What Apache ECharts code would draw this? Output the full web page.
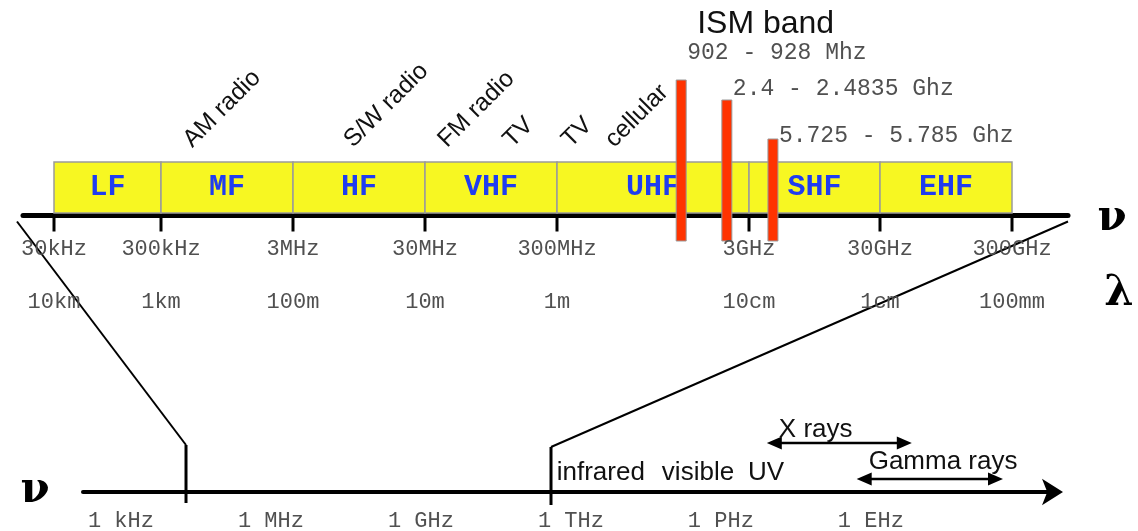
<!DOCTYPE html>
<html><head><meta charset="utf-8">
<script src="https://cdn.jsdelivr.net/npm/echarts@6/dist/echarts.min.js"></script>
<style>html,body{margin:0;padding:0;background:#fff;}#c{width:1138px;height:531px;}</style>
</head><body><div id="c"></div>
<script>
// ---------------- data ----------------
const bandNames = ['LF', 'MF', 'HF', 'VHF', 'UHF', 'SHF', 'EHF'];
const bandEdgesHz = [3e4, 3e5, 3e6, 3e7, 3e8, 3e9, 3e10, 3e11];
const freqTickLabels = ['30kHz', '300kHz', '3MHz', '30MHz', '300MHz', '3GHz', '30GHz', '300GHz'];
const wavelengthLabels = ['10km', '1km', '100m', '10m', '1m', '10cm', '1cm', '100mm'];
const serviceNames = ['AM radio', 'S/W radio', 'FM radio', 'TV', 'TV', 'cellular'];
const serviceHz = [4.0e5, 6.6e6, 3.4e7, 1.06e8, 2.95e8, 5.0e8];
const ismTitle = 'ISM band';
const ismLabels = ['902 - 928 Mhz', '2.4 - 2.4835 Ghz', '5.725 - 5.785 Ghz'];
const ismBarHz = [1.33e9, 2.3e9, 4.57e9];
const spectrumTickLabels = ['1 kHz', '1 MHz', '1 GHz', '1 THz', '1 PHz', '1 EHz'];
const spectrumTickHz = [1e3, 1e6, 1e9, 1e12, 1e15, 1e18];
const regionNames = ['infrared', 'visible', 'UV'];
const regionStartHz = [5.2e11, 6.6e13, 3.5e15];
const rayNames = ['X rays', 'Gamma rays'];
const rayFromHz = [8.3e15, 5.2e17];
const rayToHz = [6.6e18, 4.4e20];
const zoomSpanHz = [2e4, 4e11];

// ---------------- layout / style ----------------
const AXIS_Y = 215.5;
const BAND_X = [54, 161, 293, 425, 557, 749, 880, 1012];
const AXIS_X = [23, 1068];
const SPEC_GRID = {left: 83, width: 970, top: 300, height: 192};
const SPEC_MIN = 174, SPEC_MAX = 4.4e21;
const ISM_BAR_TOP = [80, 100, 139];
const ISM_LABEL_Y = [53, 89, 136];
const RAY_DY = [-49, -13];
const RAY_TEXT_DY = [-62, -30];
const MONO = '"Liberation Mono", "DejaVu Sans Mono", monospace';
const SANS = '"Liberation Sans", Arial, sans-serif';
const SERIF = '"DejaVu Serif", "Liberation Serif", serif';
const MONO_COLOR = '#505050';

const grids = [], xAxes = [], yAxes = [], series = [];
bandNames.forEach((n, i) => {
  grids.push({left: BAND_X[i], width: BAND_X[i + 1] - BAND_X[i], top: 0, height: AXIS_Y});
  xAxes.push({gridIndex: i, type: 'log', logBase: 10, min: bandEdgesHz[i], max: bandEdgesHz[i + 1], show: false});
  yAxes.push({gridIndex: i, type: 'value', min: 0, max: 1, show: false});
});
const AX_GRID = grids.length;
grids.push({left: AXIS_X[0], width: AXIS_X[1] - AXIS_X[0], top: 0, height: AXIS_Y});
xAxes.push({gridIndex: AX_GRID, type: 'value', min: 0, max: 1,
  axisLine: {show: true, onZero: false, lineStyle: {color: '#000', width: 5}},
  axisTick: {show: false}, axisLabel: {show: false}, splitLine: {show: false}});
yAxes.push({gridIndex: AX_GRID, type: 'value', min: 0, max: 1, show: false});
const SP_GRID = grids.length;
grids.push(SPEC_GRID);
xAxes.push({gridIndex: SP_GRID, type: 'log', logBase: 10, min: SPEC_MIN, max: SPEC_MAX,
  axisLine: {show: true, onZero: false, symbol: ['none', 'arrow'], symbolSize: [20, 21], symbolOffset: [0, 10],
    lineStyle: {color: '#000', width: 4}},
  axisTick: {show: false}, axisLabel: {show: false}, splitLine: {show: false}, minorTick: {show: false}});
yAxes.push({gridIndex: SP_GRID, type: 'value', min: 0, max: 1, show: false});

function bandOf(f) {
  for (let i = 0; i < bandNames.length - 1; i++) if (f < bandEdgesHz[i + 1]) return i;
  return bandNames.length - 1;
}

const topItems = bandNames.map(() => []);
bandNames.forEach((n, i) => topItems[i].push({kind: 'band', f: bandEdgesHz[i], i}));
bandEdgesHz.forEach((f, i) => topItems[bandOf(f)].push({kind: 'tick', f, i}));
serviceHz.forEach((f, i) => topItems[bandOf(f)].push({kind: 'service', f, i}));
ismBarHz.forEach((f, i) => topItems[bandOf(f)].push({kind: 'ism', f, i}));

function monoText(x, y, text, size, align) {
  return {type: 'text', x, y, style: {text, fill: MONO_COLOR, fontFamily: MONO, fontSize: size,
    align: align || 'center', verticalAlign: 'middle'}};
}

function renderTop(d, api) {
  const p = api.coord([d.f, 0]);
  const x = p[0], y = p[1];
  if (d.kind === 'band') {
    const x0 = api.coord([bandEdgesHz[d.i], 0])[0];
    const x1 = api.coord([bandEdgesHz[d.i + 1], 0])[0];
    return {type: 'group', children: [
      {type: 'rect', shape: {x: x0, y: y - 53.5, width: x1 - x0, height: 51},
        style: {fill: '#f7f722', stroke: '#9a9a9a', lineWidth: 1.5}},
      {type: 'text', x: (x0 + x1) / 2, y: y - 28, style: {text: bandNames[d.i], fill: '#1f3cf0',
        fontFamily: MONO, fontWeight: 'bold', fontSize: 30, align: 'center', verticalAlign: 'middle'}}
    ]};
  }
  if (d.kind === 'tick') {
    return {type: 'group', children: [
      {type: 'line', shape: {x1: x, y1: y, x2: x, y2: y + 16}, style: {stroke: '#000', lineWidth: 3}},
      monoText(x, y + 34, freqTickLabels[d.i], 22),
      monoText(x, y + 87, wavelengthLabels[d.i], 22)
    ]};
  }
  if (d.kind === 'service') {
    return {type: 'text', x: x + 10, y: y - 72, rotation: Math.PI / 4,
      style: {text: serviceNames[d.i], fill: '#111', fontFamily: SANS, fontSize: 24.5, align: 'left', verticalAlign: 'middle'}};
  }
  if (d.kind === 'ism') {
    const top = ISM_BAR_TOP[d.i];
    const ch = [
      {type: 'rect', shape: {x: x - 5, y: top, width: 10, height: y + 25.5 - top},
        style: {fill: '#ff3300', stroke: '#999', lineWidth: 1}},
      monoText(x + 6, ISM_LABEL_Y[d.i], ismLabels[d.i], 23, 'left')
    ];
    if (d.i === 0) ch.push({type: 'text', x: x + 16, y: 24, style: {text: ismTitle, fill: '#111',
      fontFamily: SANS, fontSize: 32, align: 'left', verticalAlign: 'middle'}});
    return {type: 'group', children: ch};
  }
}

function makeTop(b, items, z) {
  return {type: 'custom', xAxisIndex: b, yAxisIndex: b, z, silent: true, animation: false,
    data: items.map(d => [d.f, 0]),
    renderItem: (params, api) => renderTop(items[params.dataIndex], api)};
}
bandNames.forEach((n, b) => {
  series.push(makeTop(b, topItems[b].filter(d => d.kind === 'band'), 2));
  series.push(makeTop(b, topItems[b].filter(d => d.kind !== 'band'), 3));
});

const botItems = [];
spectrumTickHz.forEach((f, i) => botItems.push({kind: 'label', f, i}));
regionStartHz.forEach((f, i) => botItems.push({kind: 'region', f, i}));
rayFromHz.forEach((f, i) => botItems.push({kind: 'ray', f, i}));

function arrowHead(xt, y, dir) {
  return {type: 'polygon', shape: {points: [[xt, y], [xt + dir * 15, y - 6.5], [xt + dir * 15, y + 6.5]]},
    style: {fill: '#000'}};
}
function renderBottom(d, api) {
  const p = api.coord([d.f, 0]);
  const x = p[0], y = p[1];
  if (d.kind === 'label') return monoText(x, y + 29, spectrumTickLabels[d.i], 22);
  if (d.kind === 'region') return {type: 'text', x, y: y - 19, style: {text: regionNames[d.i], fill: '#111',
    fontFamily: SANS, fontSize: 26, align: 'left', verticalAlign: 'middle'}};
  if (d.kind === 'ray') {
    const x1 = api.coord([rayToHz[d.i], 0])[0];
    const ay = y + RAY_DY[d.i];
    return {type: 'group', children: [
      {type: 'line', shape: {x1: x + 10, y1: ay, x2: x1 - 10, y2: ay}, style: {stroke: '#000', lineWidth: 2.7}},
      arrowHead(x, ay, 1), arrowHead(x1, ay, -1),
      {type: 'text', x: x + 12, y: y + RAY_TEXT_DY[d.i], style: {text: rayNames[d.i], fill: '#111',
        fontFamily: SANS, fontSize: 26, align: 'left', verticalAlign: 'middle'}}
    ]};
  }
}
series.push({type: 'custom', xAxisIndex: SP_GRID, yAxisIndex: SP_GRID, z: 3, silent: true, animation: false,
  data: botItems.map(d => [d.f, 0]),
  renderItem: (params, api) => renderBottom(botItems[params.dataIndex], api)});

const chart = echarts.init(document.getElementById('c'), null, {renderer: 'canvas'});
chart.setOption({
  animation: false,
  backgroundColor: '#fff',
  grid: grids, xAxis: xAxes, yAxis: yAxes, series
});

// connectors (zoom lines) computed through the axes
const axL = chart.convertToPixel({xAxisIndex: AX_GRID}, 0);
const axR = chart.convertToPixel({xAxisIndex: AX_GRID}, 1);
const zl = chart.convertToPixel({xAxisIndex: SP_GRID}, zoomSpanHz[0]);
const zr = chart.convertToPixel({xAxisIndex: SP_GRID}, zoomSpanHz[1]);
const spY = chart.convertToPixel({yAxisIndex: SP_GRID}, 0);
const symStyle = {fill: '#000', fontFamily: SERIF, fontWeight: 'bold', fontSize: 42, align: 'center', verticalAlign: 'middle'};
chart.setOption({graphic: [
  {id: 'cl', type: 'polyline', shape: {points: [[axL - 6, AXIS_Y + 6], [zl, spY - 47]]}, style: {stroke: '#000', lineWidth: 2, fill: null}},
  {id: 'cr', type: 'polyline', shape: {points: [[axR, AXIS_Y + 6], [zr, spY - 45]]}, style: {stroke: '#000', lineWidth: 2, fill: null}},
  {id: 'vl', type: 'line', shape: {x1: zl, y1: spY - 47, x2: zl, y2: spY + 11}, style: {stroke: '#000', lineWidth: 3}},
  {id: 'vr', type: 'line', shape: {x1: zr, y1: spY - 45, x2: zr, y2: spY + 13}, style: {stroke: '#000', lineWidth: 3}},
  {id: 'nu1', type: 'text', x: axR + 44, y: AXIS_Y + 4, style: Object.assign({text: 'ν'}, symStyle)},
  {id: 'lam', type: 'text', x: axR + 51, y: AXIS_Y + 79, style: Object.assign({text: 'λ'}, symStyle)},
  {id: 'nu2', type: 'text', x: 35, y: spY - 1, style: Object.assign({text: 'ν'}, symStyle)}
]});
</script></body></html>
